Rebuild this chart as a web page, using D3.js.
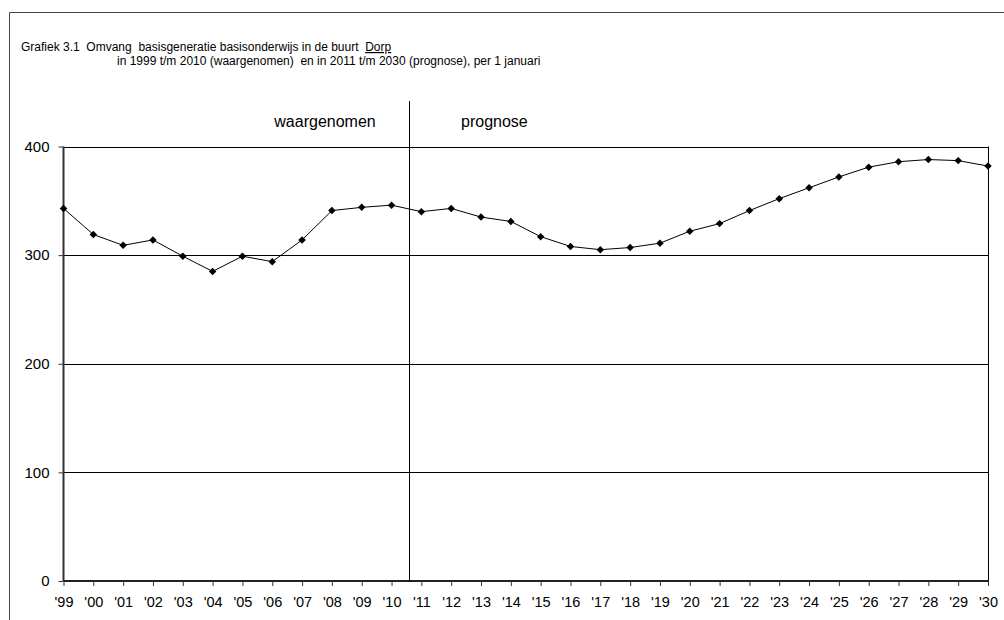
<!DOCTYPE html>
<html>
<head>
<meta charset="utf-8">
<script src="https://cdn.jsdelivr.net/npm/d3@7"></script>
<style>
  html, body { margin: 0; padding: 0; background: #fff; }
  svg { display: block; }
  text { font-family: "Liberation Sans", Arial, sans-serif; fill: #000; }
</style>
</head>
<body>
<svg id="chart" width="1004" height="620"></svg>
<script>
// ---- data ----
const years = ["'99","'00","'01","'02","'03","'04","'05","'06","'07","'08","'09","'10",
               "'11","'12","'13","'14","'15","'16","'17","'18","'19","'20","'21","'22",
               "'23","'24","'25","'26","'27","'28","'29","'30"];
const values = [343, 319, 309, 314, 299, 285, 299, 294, 314, 341, 344, 346,
                340, 343, 335, 331, 317, 308, 305, 307, 311, 322, 329, 341,
                352, 362, 372, 381, 386, 388, 387, 382];
const yTicks = [0, 100, 200, 300, 400];
const titleLine1 = "Grafiek 3.1  Omvang  basisgeneratie basisonderwijs in de buurt  ";
const titleUnderlined = "Dorp";
const titleLine2 = "in 1999 t/m 2010 (waargenomen)  en in 2011 t/m 2030 (prognose), per 1 januari";
const labelObserved = "waargenomen";
const labelForecast = "prognose";
const splitAfter = "'10";

// ---- layout ----
const svg = d3.select("#chart");
const pLeft = 63.5, pRight = 988, pTop = 146.5, pBottom = 581;
const FONT = "'Liberation Sans', Arial, sans-serif";

const x = d3.scalePoint().domain(years).range([pLeft, pRight]);
const y = d3.scaleLinear().domain([0, 400]).range([pBottom, pTop]);

// outer frame
svg.append("path")
  .attr("d", `M9.5,620 V12.5 H1004`)
  .attr("fill", "none").attr("stroke", "#444").attr("stroke-width", 1);

// title
const t1 = svg.append("text").attr("x", 21).attr("y", 51).style("font-size", "12px")
  .attr("xml:space", "preserve");
t1.append("tspan").text(titleLine1);
t1.append("tspan").style("text-decoration", "underline").text(titleUnderlined);
svg.append("text").attr("x", 117).attr("y", 65).style("font-size", "12px")
  .attr("xml:space", "preserve").text(titleLine2);

// gridlines
svg.append("g").selectAll("line").data(yTicks.filter(d => d > 0)).join("line")
  .attr("x1", pLeft).attr("x2", pRight)
  .attr("y1", d => Math.round(y(d)) + 0.5).attr("y2", d => Math.round(y(d)) + 0.5)
  .attr("stroke", "#000").attr("stroke-width", 1);

// right border
svg.append("line").attr("x1", pRight + 0.5).attr("x2", pRight + 0.5)
  .attr("y1", y(400)).attr("y2", pBottom).attr("stroke", "#000");

// y axis
const yAxis = d3.axisLeft(y).tickValues(yTicks).tickSize(5).tickPadding(9);
const gy = svg.append("g").attr("transform", `translate(${pLeft},0)`).call(yAxis);
gy.select(".domain").attr("stroke", "#333").attr("stroke-width", 2)
  .attr("d", `M0,${y(400)}V${pBottom}`);
gy.selectAll(".tick line").attr("stroke", "#333");
gy.selectAll(".tick text").style("font-size", "15px").style("font-family", FONT);

// x axis
const xAxis = d3.axisBottom(x).tickSize(5).tickPadding(11);
const gx = svg.append("g").attr("transform", `translate(0,${pBottom})`).call(xAxis);
gx.select(".domain").attr("stroke", "#222").attr("stroke-width", 2)
  .attr("d", `M${pLeft},0H${pRight}`);
gx.selectAll(".tick line").attr("stroke", "#333");
gx.selectAll(".tick text").style("font-size", "14.5px").style("font-family", FONT);

// divider between observed and forecast
const step = x.step();
const xDiv = Math.round(x(splitAfter) + step * 0.6) + 0.5;
svg.append("line").attr("x1", xDiv).attr("x2", xDiv)
  .attr("y1", 101).attr("y2", pBottom + 1).attr("stroke", "#000").attr("stroke-width", 1);

svg.append("text").attr("x", 325).attr("y", 127).attr("text-anchor", "middle")
  .style("font-size", "16px").text(labelObserved);
svg.append("text").attr("x", 461).attr("y", 127)
  .style("font-size", "16px").text(labelForecast);

// line
const line = d3.line().x((d, i) => x(years[i])).y(d => y(d));
svg.append("path").datum(values).attr("d", line)
  .attr("fill", "none").attr("stroke", "#000").attr("stroke-width", 1);

// markers
const diamond = d3.symbol().type(d3.symbolSquare).size(28);
svg.append("g").selectAll("path").data(values).join("path")
  .attr("d", diamond)
  .attr("transform", (d, i) => `translate(${x(years[i])},${y(d)}) rotate(45)`)
  .attr("fill", "#000");
</script>
</body>
</html>
